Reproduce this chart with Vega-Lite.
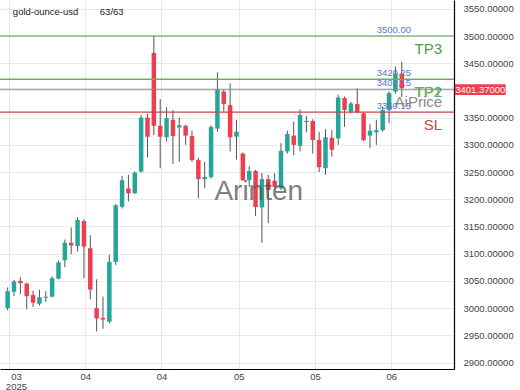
{
  "$schema": "https://vega.github.io/schema/vega-lite/v6.json",
  "width": 454,
  "height": 369,
  "autosize": {"type": "none"},
  "padding": {"left": 0, "top": 0, "right": 66, "bottom": 21},
  "background": "white",
  "config": {
    "view": {"stroke": null},
    "font": "Liberation Sans",
    "axisY": {"tickCount": 14}
  },
  "datasets": {
    "candles": [
      {"i":0,"o":3000,"h":3038,"l":2996,"c":3031},
      {"i":1,"o":3030,"h":3052,"l":3022,"c":3049},
      {"i":2,"o":3050,"h":3057,"l":3026,"c":3046},
      {"i":3,"o":3045,"h":3047,"l":2998,"c":3022},
      {"i":4,"o":3024,"h":3032,"l":3002,"c":3010},
      {"i":5,"o":3008,"h":3034,"l":3005,"c":3020},
      {"i":6,"o":3019,"h":3031,"l":3011,"c":3021},
      {"i":7,"o":3021,"h":3058,"l":3020,"c":3055},
      {"i":8,"o":3054,"h":3087,"l":3053,"c":3084},
      {"i":9,"o":3088,"h":3126,"l":3075,"c":3120},
      {"i":10,"o":3120,"h":3148,"l":3099,"c":3115},
      {"i":11,"o":3114,"h":3167,"l":3104,"c":3162},
      {"i":12,"o":3160,"h":3163,"l":3055,"c":3113},
      {"i":13,"o":3110,"h":3134,"l":3016,"c":3034},
      {"i":14,"o":3000,"h":3053,"l":2957,"c":2981},
      {"i":15,"o":2982,"h":3021,"l":2962,"c":2979},
      {"i":16,"o":2975,"h":3098,"l":2972,"c":3085},
      {"i":17,"o":3085,"h":3191,"l":3079,"c":3189},
      {"i":18,"o":3186,"h":3243,"l":3183,"c":3235},
      {"i":19,"o":3220,"h":3245,"l":3196,"c":3211},
      {"i":20,"o":3211,"h":3251,"l":3210,"c":3249},
      {"i":21,"o":3251,"h":3355,"l":3249,"c":3350},
      {"i":22,"o":3350,"h":3357,"l":3277,"c":3315},
      {"i":23,"o":3469,"h":3500,"l":3318,"c":3335},
      {"i":24,"o":3335,"h":3384,"l":3257,"c":3315},
      {"i":25,"o":3314,"h":3369,"l":3306,"c":3349},
      {"i":26,"o":3346,"h":3364,"l":3265,"c":3316},
      {"i":27,"o":3332,"h":3350,"l":3269,"c":3336},
      {"i":28,"o":3335,"h":3337,"l":3300,"c":3317},
      {"i":29,"o":3316,"h":3326,"l":3269,"c":3272},
      {"i":30,"o":3272,"h":3276,"l":3202,"c":3237},
      {"i":31,"o":3237,"h":3269,"l":3220,"c":3241},
      {"i":32,"o":3241,"h":3336,"l":3238,"c":3333},
      {"i":33,"o":3330,"h":3433,"l":3324,"c":3401},
      {"i":34,"o":3398,"h":3401,"l":3361,"c":3375},
      {"i":35,"o":3373,"h":3413,"l":3288,"c":3314},
      {"i":36,"o":3315,"h":3346,"l":3273,"c":3324},
      {"i":37,"o":3284,"h":3286,"l":3234,"c":3235},
      {"i":38,"o":3235,"h":3261,"l":3223,"c":3252},
      {"i":39,"o":3252,"h":3254,"l":3169,"c":3186},
      {"i":40,"o":3185,"h":3248,"l":3120,"c":3237},
      {"i":41,"o":3237,"h":3245,"l":3156,"c":3217},
      {"i":42,"o":3234,"h":3248,"l":3220,"c":3223},
      {"i":43,"o":3220,"h":3303,"l":3217,"c":3289},
      {"i":44,"o":3288,"h":3326,"l":3284,"c":3320},
      {"i":45,"o":3317,"h":3343,"l":3281,"c":3300},
      {"i":46,"o":3298,"h":3365,"l":3288,"c":3355},
      {"i":47,"o":3342,"h":3353,"l":3323,"c":3344},
      {"i":48,"o":3344,"h":3347,"l":3284,"c":3309},
      {"i":49,"o":3309,"h":3324,"l":3250,"c":3259},
      {"i":50,"o":3257,"h":3329,"l":3245,"c":3314},
      {"i":51,"o":3313,"h":3327,"l":3278,"c":3291},
      {"i":52,"o":3312,"h":3392,"l":3300,"c":3387},
      {"i":53,"o":3386,"h":3389,"l":3333,"c":3364},
      {"i":54,"o":3361,"h":3379,"l":3358,"c":3376},
      {"i":55,"o":3375,"h":3404,"l":3358,"c":3360},
      {"i":56,"o":3358,"h":3360,"l":3307,"c":3309},
      {"i":57,"o":3317,"h":3338,"l":3294,"c":3326},
      {"i":58,"o":3323,"h":3346,"l":3300,"c":3327},
      {"i":59,"o":3327,"h":3370,"l":3324,"c":3364},
      {"i":60,"o":3364,"h":3398,"l":3340,"c":3395},
      {"i":61,"o":3398,"h":3444,"l":3394,"c":3431},
      {"i":62,"o":3431,"h":3453,"l":3388,"c":3404}
    ],
    "levels": [
      {"name":"TP3","price":3500,"tag":"3500.00"},
      {"name":"TP2","price":3420.25,"tag":"3420.25"},
      {"name":"TP1","price":3420.25,"tag":""},
      {"name":"AiPrice","price":3402.15,"tag":"3402.15"},
      {"name":"SL","price":3360.15,"tag":"3360.15"}
    ]
  },
  "layer": [
    {
      "data": {"name": "candles"},
      "mark": {"type": "rule", "color": "#555555", "strokeWidth": 1},
      "encoding": {
        "x": {
          "field": "i", "type": "quantitative",
          "scale": {"domain": [-0.415, 69.43], "nice": false, "zero": false},
          "axis": {
            "title": null,
            "values": [0.2, 12.2, 24.2, 36.35, 48.35, 60.35],
            "labelExpr": "datum.value < 1 ? ['03','2025'] : datum.value < 30 ? '04' : datum.value < 50 ? '05' : '06'",
            "labelOffset": {"condition": {"test": "datum.value < 1", "value": 7}, "value": 0},
            "ticks": false,
            "labelPadding": 2,
            "labelFontSize": 9.5,
            "labelColor": "#444444",
            "labelLineHeight": 10,
            "domainColor": "#000000",
            "domainWidth": 1.2,
            "grid": true,
            "gridColor": "#e8e8e8",
            "labelFlush": false,
            "labelOverlap": false
          }
        },
        "y": {
          "field": "l", "type": "quantitative",
          "scale": {"domain": [2888.1, 3566.2], "nice": false, "zero": false},
          "axis": {
            "title": null,
            "orient": "right",
            "values": [2900, 2950, 3000, 3050, 3100, 3150, 3200, 3250, 3300, 3350, 3400, 3450, 3500, 3550],
            "tickCount": 14,
            "labelExpr": "datum.value == 3400 ? '' : format(datum.value, '.5f')",
            "ticks": false,
            "labelPadding": 9,
            "labelFontSize": 9.5,
            "labelColor": "#444444",
            "domainColor": "#000000",
            "domainWidth": 1.2,
            "grid": true,
            "gridColor": "#e8e8e8",
            "labelOverlap": false,
            "labelFlush": false
          }
        },
        "y2": {"field": "h"}
      }
    },
    {
      "data": {"name": "candles"},
      "mark": {"type": "bar", "width": 4.5},
      "encoding": {
        "x": {"field": "i", "type": "quantitative"},
        "y": {"field": "o", "type": "quantitative"},
        "y2": {"field": "c"},
        "color": {"condition": {"test": "datum.c >= datum.o", "value": "#26a69a"}, "value": "#ef3e4f"}
      }
    },
    {
      "data": {"name": "levels"},
      "mark": {"type": "rule", "strokeWidth": 1.2},
      "encoding": {
        "y": {"field": "price", "type": "quantitative"},
        "color": {"field": "name", "type": "nominal", "legend": null,
          "scale": {"domain": ["TP3","TP2","TP1","AiPrice","SL"], "range": ["#4f9a4f","#4f9a4f","#5fb55f","#8a8a8a","#cc4444"]}}
      }
    },
    {
      "data": {"name": "levels"},
      "mark": {"type": "text", "align": "right", "baseline": "middle", "dy": 12.5, "fontSize": 15},
      "encoding": {
        "x": {"datum": 68.35, "type": "quantitative"},
        "y": {"field": "price", "type": "quantitative"},
        "text": {"field": "name"},
        "color": {"field": "name", "type": "nominal", "legend": null,
          "scale": {"domain": ["TP3","TP2","TP1","AiPrice","SL"], "range": ["#3a913a","#3a913a","#5fb55f","#8a8a8a","#d93636"]}}
      }
    },
    {
      "data": {"name": "levels"},
      "transform": [{"filter": "datum.tag != ''"}],
      "mark": {"type": "text", "align": "left", "baseline": "middle", "dy": -6, "fontSize": 9.5, "color": "#5a78c8"},
      "encoding": {
        "x": {"datum": 58.05, "type": "quantitative"},
        "y": {"field": "price", "type": "quantitative"},
        "text": {"field": "tag"}
      }
    },
    {
      "data": {"values": [{"t": "Arinten"}]},
      "mark": {"type": "text", "align": "center", "baseline": "middle", "fontSize": 28, "color": "#555555", "opacity": 0.75},
      "encoding": {
        "x": {"datum": 39.5, "type": "quantitative"},
        "y": {"datum": 3213, "type": "quantitative"},
        "text": {"field": "t"}
      }
    },
    {
      "data": {"values": [{"t": "gold-ounce-usd", "p": 0.82}, {"t": "63/63", "p": 14.5}]},
      "mark": {"type": "text", "align": "left", "baseline": "middle", "fontSize": 9.5, "color": "#222222"},
      "encoding": {
        "x": {"field": "p", "type": "quantitative"},
        "y": {"datum": 3544, "type": "quantitative"},
        "text": {"field": "t"}
      }
    },
    {
      "data": {"values": [{"price": 3401.37, "t": "3401.37000"}]},
      "mark": {"type": "rect", "color": "#ef3e4f", "clip": false},
      "encoding": {
        "x": {"datum": 70.35, "type": "quantitative"},
        "x2": {"datum": 78.35},
        "y": {"datum": 3411.2, "type": "quantitative"},
        "y2": {"datum": 3391.6}
      }
    },
    {
      "data": {"values": [{"price": 3401.37, "t": "3401.37000"}]},
      "mark": {"type": "text", "align": "center", "baseline": "middle", "fontSize": 9.5, "color": "#ffffff"},
      "encoding": {
        "x": {"datum": 74.35, "type": "quantitative"},
        "y": {"field": "price", "type": "quantitative"},
        "text": {"field": "t"}
      }
    }
  ]
}
